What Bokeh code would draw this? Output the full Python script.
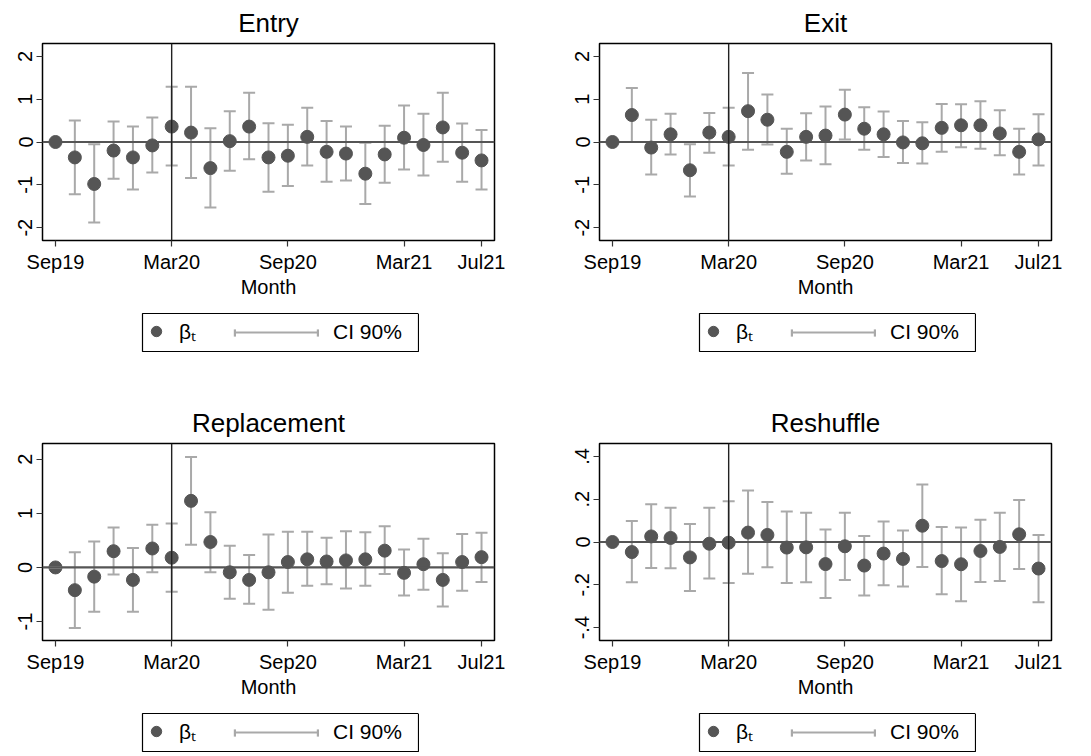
from bokeh.plotting import figure
from bokeh.models import (Range1d, FixedTicker, Span, Legend, LegendItem,
                          CustomJSTickFormatter, ColumnDataSource, Spacer)
from bokeh.layouts import column, row
from bokeh.embed import file_html
from bokeh.resources import INLINE

months = ["Sep19", "Oct19", "Nov19", "Dec19", "Jan20", "Feb20", "Mar20",
          "Apr20", "May20", "Jun20", "Jul20", "Aug20", "Sep20", "Oct20",
          "Nov20", "Dec20", "Jan21", "Feb21", "Mar21", "Apr21", "May21",
          "Jun21", "Jul21"]
tick_months = ["Sep19", "Mar20", "Sep20", "Mar21", "Jul21"]
event_month = "Mar20"

entry_beta = [0, -0.36, -0.98, -0.20, -0.36, -0.08, 0.36, 0.22, -0.61, 0.02, 0.36, -0.36,
              -0.32, 0.12, -0.23, -0.27, -0.74, -0.29, 0.10, -0.07, 0.34, -0.25, -0.43]
entry_lo = [0, -1.22, -1.88, -0.86, -1.11, -0.71, -0.55, -0.84, -1.53, -0.67, -0.40, -1.16,
            -1.03, -0.55, -0.93, -0.90, -1.45, -0.95, -0.64, -0.78, -0.46, -0.93, -1.11]
entry_hi = [0, 0.50, -0.05, 0.48, 0.36, 0.57, 1.29, 1.29, 0.32, 0.72, 1.15, 0.44,
            0.40, 0.80, 0.49, 0.36, -0.02, 0.38, 0.85, 0.66, 1.15, 0.43, 0.28]

exit_beta = [0, 0.63, -0.13, 0.18, -0.66, 0.22, 0.12, 0.72, 0.52, -0.23, 0.12, 0.15,
             0.64, 0.31, 0.18, -0.01, -0.03, 0.33, 0.39, 0.39, 0.20, -0.23, 0.06]
exit_lo = [0, 0.0, -0.76, -0.29, -1.27, -0.25, -0.55, -0.18, -0.06, -0.74, -0.43, -0.52,
           0.06, -0.18, -0.35, -0.49, -0.50, -0.23, -0.12, -0.16, -0.31, -0.76, -0.55]
exit_hi = [0, 1.26, 0.52, 0.66, -0.05, 0.68, 0.80, 1.61, 1.11, 0.31, 0.67, 0.83,
           1.22, 0.81, 0.71, 0.49, 0.46, 0.89, 0.88, 0.95, 0.74, 0.31, 0.65]

repl_beta = [0, -0.42, -0.17, 0.30, -0.23, 0.35, 0.18, 1.23, 0.47, -0.09, -0.23, -0.09,
             0.10, 0.15, 0.11, 0.13, 0.15, 0.31, -0.10, 0.06, -0.23, 0.10, 0.19]
repl_lo = [0, -1.12, -0.82, -0.13, -0.82, -0.09, -0.45, 0.42, -0.09, -0.58, -0.67, -0.78,
           -0.47, -0.34, -0.31, -0.39, -0.34, -0.12, -0.52, -0.41, -0.72, -0.43, -0.27]
repl_hi = [0, 0.28, 0.48, 0.74, 0.36, 0.79, 0.81, 2.04, 1.02, 0.40, 0.23, 0.61,
           0.66, 0.66, 0.55, 0.67, 0.65, 0.76, 0.33, 0.53, 0.26, 0.62, 0.64]

resh_beta = [0, -0.047, 0.026, 0.019, -0.072, -0.008, -0.003, 0.044, 0.033, -0.026, -0.025,
             -0.103, -0.020, -0.110, -0.054, -0.079, 0.076, -0.089, -0.104, -0.042, -0.023,
             0.036, -0.124]
resh_lo = [0, -0.188, -0.121, -0.123, -0.229, -0.170, -0.191, -0.148, -0.118, -0.191, -0.188,
           -0.261, -0.177, -0.250, -0.202, -0.208, -0.117, -0.244, -0.277, -0.187, -0.182,
           -0.126, -0.281]
resh_hi = [0, 0.098, 0.176, 0.160, 0.084, 0.160, 0.190, 0.240, 0.187, 0.142, 0.137,
           0.058, 0.137, 0.028, 0.096, 0.054, 0.269, 0.070, 0.068, 0.104, 0.137,
           0.196, 0.033]

int_ticks = [-2, -1, 0, 1, 2]
resh_ticks = [-0.4, -0.2, 0, 0.2, 0.4]

FONT = "Liberation Sans"
DOT = "#555555"
CI = "#a9a9a9"

TICK_JS = """
if (Math.abs(tick) < 1e-9) return '0';
if (Math.abs(tick - Math.round(tick)) < 1e-9) return String(Math.round(tick));
return tick.toFixed(1).replace('0.', '.');
"""


def make_main(title, src, yr, yticks, width, height, b_top, b_bottom, b_left, b_right):
    p = figure(width=width, height=height, output_backend="svg",
               toolbar_location=None, x_range=Range1d(-0.67, len(months) - 1 + 0.67),
               y_range=Range1d(*yr), min_border_top=b_top, min_border_bottom=b_bottom,
               min_border_left=b_left, min_border_right=b_right)
    p.title.text = title
    p.title.align = "center"
    p.title.text_font = FONT
    p.title.text_font_size = "26px"
    p.title.text_font_style = "normal"
    p.title.text_color = "black"
    p.title.standoff = 11
    p.xgrid.visible = False
    p.ygrid.visible = False
    p.outline_line_color = "black"
    p.outline_line_width = 1.5
    p.background_fill_color = "white"
    p.border_fill_color = "white"

    xa = p.xaxis[0]
    xa.ticker = FixedTicker(ticks=[months.index(m) for m in tick_months])
    xa.major_label_overrides = {months.index(m): m for m in tick_months}
    xa.axis_label = "Month"
    ya = p.yaxis[0]
    ya.ticker = FixedTicker(ticks=yticks)
    ya.major_label_orientation = "vertical"
    ya.formatter = CustomJSTickFormatter(code=TICK_JS)
    for ax in (xa, ya):
        ax.axis_line_color = None
        ax.major_tick_line_color = "#333333"
        ax.major_tick_line_width = 1.2
        ax.major_tick_out = 6
        ax.major_tick_in = 0
        ax.minor_tick_line_color = None
        ax.major_label_text_font = FONT
        ax.major_label_text_font_size = "20px"
        ax.major_label_text_color = "black"
        ax.axis_label_text_font = FONT
        ax.axis_label_text_font_size = "20px"
        ax.axis_label_text_font_style = "normal"
        ax.axis_label_text_color = "black"
        ax.major_label_standoff = 4
        ax.axis_label_standoff = 0

    p.add_layout(Span(location=0, dimension="width", line_color=DOT, line_width=2.2))
    p.add_layout(Span(location=months.index(event_month), dimension="height",
                      line_color="#222222", line_width=1.4))

    p.segment(x0="x", y0="lo", x1="x", y1="hi", source=src, line_color=CI, line_width=2)
    p.scatter("x", "b", source=src, size=13, fill_color=DOT, line_color=DOT)
    p.scatter("x", "lo", source=src, marker="dash", size=12, line_color=CI, line_width=2)
    p.scatter("x", "hi", source=src, marker="dash", size=12, line_color=CI, line_width=2)
    return p


def make_legend(src):
    # Legend box; its own renderers share the data but lie outside its (empty) ranges.
    lf = figure(width=278, height=40, output_backend="svg", toolbar_location=None,
                x_axis_type=None, y_axis_type=None, min_border=1,
                x_range=Range1d(-100, -99), y_range=Range1d(-100, -99))
    lf.xgrid.visible = False
    lf.ygrid.visible = False
    lf.outline_line_color = "black"
    lf.outline_line_width = 1.2
    dots = lf.scatter("x", "b", source=src, size=13, fill_color=DOT, line_color=DOT)
    seg = lf.segment(x0="x", y0="lo", x1="x", y1="hi", source=src, line_color=CI,
                     line_width=2)
    cap = lf.vbar(x="x", bottom="lo", top="hi", width=0.1, source=src, fill_color=CI,
                  line_color=None)
    common = dict(orientation="horizontal", border_line_color=None,
                  background_fill_alpha=0, label_text_font=FONT,
                  label_text_color="black", padding=0, margin=0, spacing=0)
    la = Legend(items=[LegendItem(label="βₜ", renderers=[dots])], location=(0, 6),
                glyph_width=28, glyph_height=26, label_standoff=9,
                label_text_font_size="21px", **common)
    lb = Legend(items=[LegendItem(label="CI 90%", renderers=[seg])], location=(92, 6),
                glyph_width=83, glyph_height=26, label_standoff=16,
                label_text_font_size="21px", **common)
    caps = []
    for cx in (90.5, 173.5):
        caps.append(Legend(items=[LegendItem(label="", renderers=[cap])],
                           location=(cx, 14.5), glyph_width=3, glyph_height=9,
                           label_height=9, label_standoff=0,
                           label_text_font_size="1px", **common))
    for lg in caps + [la, lb]:
        lf.add_layout(lg, "center")
    return lf


def panel(title, beta, lo, hi, yr, yticks, width, height, b_top, b_left, b_right,
          leg_left, gap_after):
    src = ColumnDataSource(dict(x=list(range(len(months))), b=beta, lo=lo, hi=hi))
    p = make_main(title, src, yr, yticks, width, height, b_top, 60, b_left, b_right)
    lf = make_legend(src)
    items = [p, Spacer(height=12), row(Spacer(width=leg_left), lf)]
    if gap_after:
        items.append(Spacer(height=gap_after))
    return column(*items)


c1 = panel("Entry", entry_beta, entry_lo, entry_hi, (-2.3, 2.3), int_ticks,
           545, 300, 42, 42, 51, 141, 48)
c2 = panel("Exit", exit_beta, exit_lo, exit_hi, (-2.3, 2.3), int_ticks,
           546, 300, 42, 54, 40, 153, 48)
c3 = panel("Replacement", repl_beta, repl_lo, repl_hi, (-1.35, 2.29), int_ticks,
           545, 300, 43, 42, 51, 141, 0)
c4 = panel("Reshuffle", resh_beta, resh_lo, resh_hi, (-0.46, 0.46), resh_ticks,
           546, 300, 43, 54, 40, 153, 0)

page = column(row(c1, c2), row(c3, c4))

open("out.html", "w").write(file_html(page, INLINE))
